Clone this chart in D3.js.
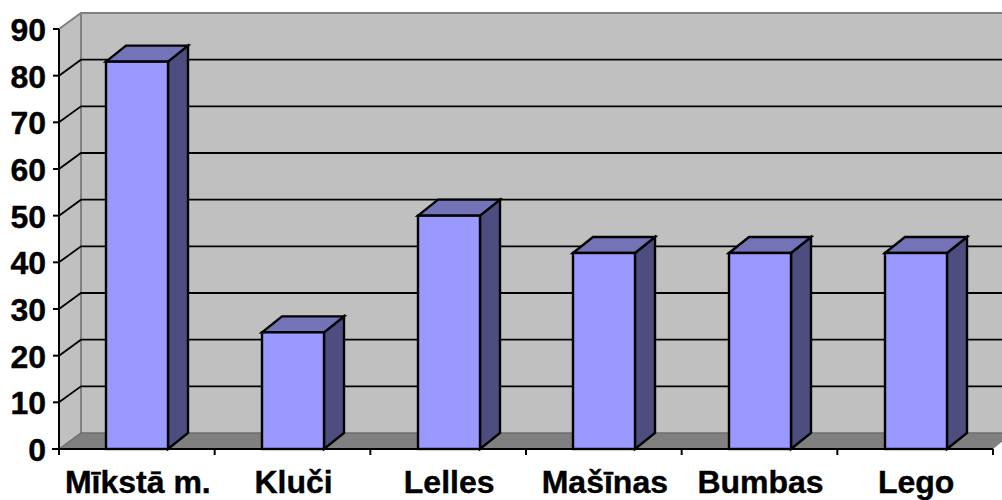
<!DOCTYPE html>
<html><head><meta charset="utf-8">
<script src="https://cdn.jsdelivr.net/npm/d3@7"></script>
<style>html,body{margin:0;padding:0;background:#fff;overflow:hidden}svg{display:block}</style>
</head><body><svg id="c" width="1002" height="500"></svg>
<script>
const categories = ["Mīkstā m.", "Kluči", "Lelles", "Mašīnas", "Bumbas", "Lego"];
const values = [83, 25, 50, 42, 42, 42];
const yTicks = [0,10,20,30,40,50,60,70,80,90];

const svg = d3.select("#c");
const DX = 22, DY = -16, BX = 20, BY = -16;
const x = d3.scaleBand().domain(categories).range([59, 993]).paddingInner(0).paddingOuter(0);
const y = d3.scaleLinear().domain([0, 90]).range([449, 29]);
const W = 1002;
const line = p => d3.line()(p);

// back wall
svg.append("path").attr("d", line([[x.range()[0]+DX, y(90)+DY],[W+2, y(90)+DY],[W+2, y(0)+DY],[x.range()[0]+DX, y(0)+DY]])+"Z").attr("fill","#c0c0c0");
// side wall
svg.append("path").attr("d", line([[59,y(90)],[59+DX,y(90)+DY],[59+DX,y(0)+DY],[59,y(0)]])+"Z").attr("fill","#c0c0c0");
// floor
svg.append("path").attr("d", line([[59,y(0)],[59+DX,y(0)+DY],[W+2,y(0)+DY],[W+2,y(0)-9],[993,y(0)]])+"Z").attr("fill","#808080");

// wall edges
svg.append("path").attr("d", line([[59,y(90)],[59+DX,y(90)+DY],[W+2,y(90)+DY]])).attr("fill","none").attr("stroke","#808080").attr("stroke-width",2);
svg.append("path").attr("d", line([[59+DX,y(90)+DY],[59+DX,y(0)+DY]])).attr("stroke","#808080").attr("stroke-width",2);
svg.append("path").attr("d", line([[59,y(0)],[59+DX,y(0)+DY],[W+2,y(0)+DY]])).attr("fill","none").attr("stroke","#6e6e6e").attr("stroke-width",1.5);

// gridlines
yTicks.filter(t=>t>0 && t<90).forEach(t=>{
  svg.append("path").attr("d", line([[59,y(t)],[59+DX,y(t)+DY],[W+2,y(t)+DY]])).attr("fill","none").attr("stroke","#000").attr("stroke-width",1.8);
});

// bars
const bw = 62;
const g = svg.append("g").attr("stroke","#000").attr("stroke-width",2.4).attr("stroke-linejoin","miter");
categories.forEach((c,i)=>{
  const x0 = Math.round(x(c)+x.bandwidth()/2-bw/2+0.6), x1=x0+bw, yt=y(values[i]), yb=y(0);
  g.append("path").attr("d", line([[x1,yt],[x1+BX,yt+BY],[x1+BX,yb+BY],[x1,yb]])+"Z").attr("fill","#4d4d80");
  g.append("path").attr("d", line([[x0,yt],[x0+BX,yt+BY],[x1+BX,yt+BY],[x1,yt]])+"Z").attr("fill","#7373b8");
  g.append("rect").attr("x",x0).attr("y",yt).attr("width",bw).attr("height",yb-yt).attr("fill","#9999ff");
});

// axes
const F = "'Liberation Sans',Arial,sans-serif";
const ax = svg.append("g").attr("stroke","#000").attr("stroke-width",2);
ax.append("line").attr("x1",59).attr("x2",59).attr("y1",y(90)).attr("y2",y(0));
ax.append("line").attr("x1",52).attr("x2",993).attr("y1",y(0)).attr("y2",y(0));
yTicks.forEach(t=>ax.append("line").attr("x1",53).attr("x2",59).attr("y1",y(t)).attr("y2",y(t)));
const xEdges = categories.map(c=>x(c)).concat([x.range()[1]]);
xEdges.forEach(v=>ax.append("line").attr("x1",v).attr("x2",v).attr("y1",y(0)).attr("y2",y(0)+6));

svg.append("g").selectAll("text").data(yTicks).join("text")
  .attr("x",46).attr("y",t=>y(t)+12).attr("text-anchor","end")
  .attr("font-family",F).attr("font-weight","bold").attr("font-size",32).attr("fill","#000").attr("stroke","#000").attr("stroke-width",0.4).text(t=>t);
svg.append("g").selectAll("text").data(categories).join("text")
  .attr("x",c=>x(c)+x.bandwidth()/2+1).attr("y",493).attr("text-anchor","middle")
  .attr("font-family",F).attr("font-weight","bold").attr("font-size",32).attr("fill","#000").attr("stroke","#000").attr("stroke-width",0.4).text(c=>c);
</script></body></html>
